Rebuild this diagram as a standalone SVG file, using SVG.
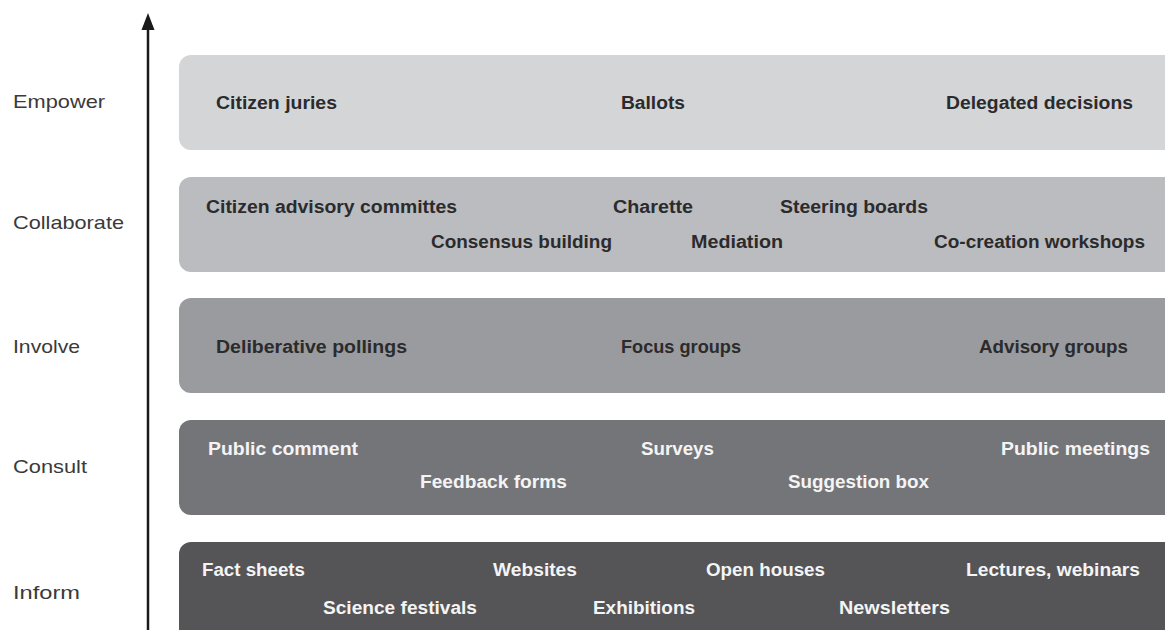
<svg xmlns="http://www.w3.org/2000/svg" width="1165" height="630" viewBox="0 0 1165 630">
<style>
.lvl{font-family:"Liberation Sans",Arial,sans-serif;font-size:19px;fill:#3a3a3a}
.t{font-family:"Liberation Sans",Arial,sans-serif;font-size:18px;font-weight:bold}
.dk{fill:#2b2b2d}
.wt{fill:#f4f4f4}
</style>
<rect width="1165" height="630" fill="#ffffff"/>
<g id="connectors">
<line x1="148" y1="630" x2="148" y2="24" stroke="#1a1a1a" stroke-width="2.5"/>
<polygon points="148,13 141.5,30 154.5,30" fill="#1a1a1a"/>
</g>
<g id="labels">
<text class="lvl" x="13" y="108" textLength="92" lengthAdjust="spacingAndGlyphs">Empower</text>
<text class="lvl" x="13" y="229" textLength="111" lengthAdjust="spacingAndGlyphs">Collaborate</text>
<text class="lvl" x="13" y="353" textLength="67" lengthAdjust="spacingAndGlyphs">Involve</text>
<text class="lvl" x="13" y="473" textLength="74" lengthAdjust="spacingAndGlyphs">Consult</text>
<text class="lvl" x="13" y="599" textLength="67" lengthAdjust="spacingAndGlyphs">Inform</text>
</g>
<g id="empower">
<rect x="179" y="55" width="1010" height="95" rx="12" fill="#d4d5d7"/>
<text class="t dk" x="216" y="109" textLength="121" lengthAdjust="spacingAndGlyphs">Citizen juries</text>
<text class="t dk" x="621" y="109" textLength="64" lengthAdjust="spacingAndGlyphs">Ballots</text>
<text class="t dk" x="946" y="109" textLength="187" lengthAdjust="spacingAndGlyphs">Delegated decisions</text>
</g>
<g id="collaborate">
<rect x="179" y="177" width="1010" height="95" rx="12" fill="#bbbcbf"/>
<text class="t dk" x="206" y="213" textLength="251" lengthAdjust="spacingAndGlyphs">Citizen advisory committes</text>
<text class="t dk" x="613" y="213" textLength="80" lengthAdjust="spacingAndGlyphs">Charette</text>
<text class="t dk" x="780" y="213" textLength="148" lengthAdjust="spacingAndGlyphs">Steering boards</text>
<text class="t dk" x="431" y="248" textLength="181" lengthAdjust="spacingAndGlyphs">Consensus building</text>
<text class="t dk" x="691" y="248" textLength="92" lengthAdjust="spacingAndGlyphs">Mediation</text>
<text class="t dk" x="934" y="248" textLength="211" lengthAdjust="spacingAndGlyphs">Co-creation workshops</text>
</g>
<g id="involve">
<rect x="179" y="298" width="1010" height="95" rx="12" fill="#9a9b9e"/>
<text class="t dk" x="216" y="353" textLength="191" lengthAdjust="spacingAndGlyphs">Deliberative pollings</text>
<text class="t dk" x="621" y="353" textLength="120" lengthAdjust="spacingAndGlyphs">Focus groups</text>
<text class="t dk" x="979" y="353" textLength="149" lengthAdjust="spacingAndGlyphs">Advisory groups</text>
</g>
<g id="consult">
<rect x="179" y="420" width="1010" height="95" rx="12" fill="#747579"/>
<text class="t wt" x="208" y="455" textLength="150" lengthAdjust="spacingAndGlyphs">Public comment</text>
<text class="t wt" x="641" y="455" textLength="73" lengthAdjust="spacingAndGlyphs">Surveys</text>
<text class="t wt" x="1001" y="455" textLength="149" lengthAdjust="spacingAndGlyphs">Public meetings</text>
<text class="t wt" x="420" y="488" textLength="147" lengthAdjust="spacingAndGlyphs">Feedback forms</text>
<text class="t wt" x="788" y="488" textLength="141" lengthAdjust="spacingAndGlyphs">Suggestion box</text>
</g>
<g id="inform">
<rect x="179" y="542" width="1010" height="120" rx="12" fill="#555557"/>
<text class="t wt" x="202" y="576" textLength="103" lengthAdjust="spacingAndGlyphs">Fact sheets</text>
<text class="t wt" x="493" y="576" textLength="84" lengthAdjust="spacingAndGlyphs">Websites</text>
<text class="t wt" x="706" y="576" textLength="119" lengthAdjust="spacingAndGlyphs">Open houses</text>
<text class="t wt" x="966" y="576" textLength="174" lengthAdjust="spacingAndGlyphs">Lectures, webinars</text>
<text class="t wt" x="323" y="614" textLength="154" lengthAdjust="spacingAndGlyphs">Science festivals</text>
<text class="t wt" x="593" y="614" textLength="102" lengthAdjust="spacingAndGlyphs">Exhibitions</text>
<text class="t wt" x="839" y="614" textLength="111" lengthAdjust="spacingAndGlyphs">Newsletters</text>
</g>
</svg>
